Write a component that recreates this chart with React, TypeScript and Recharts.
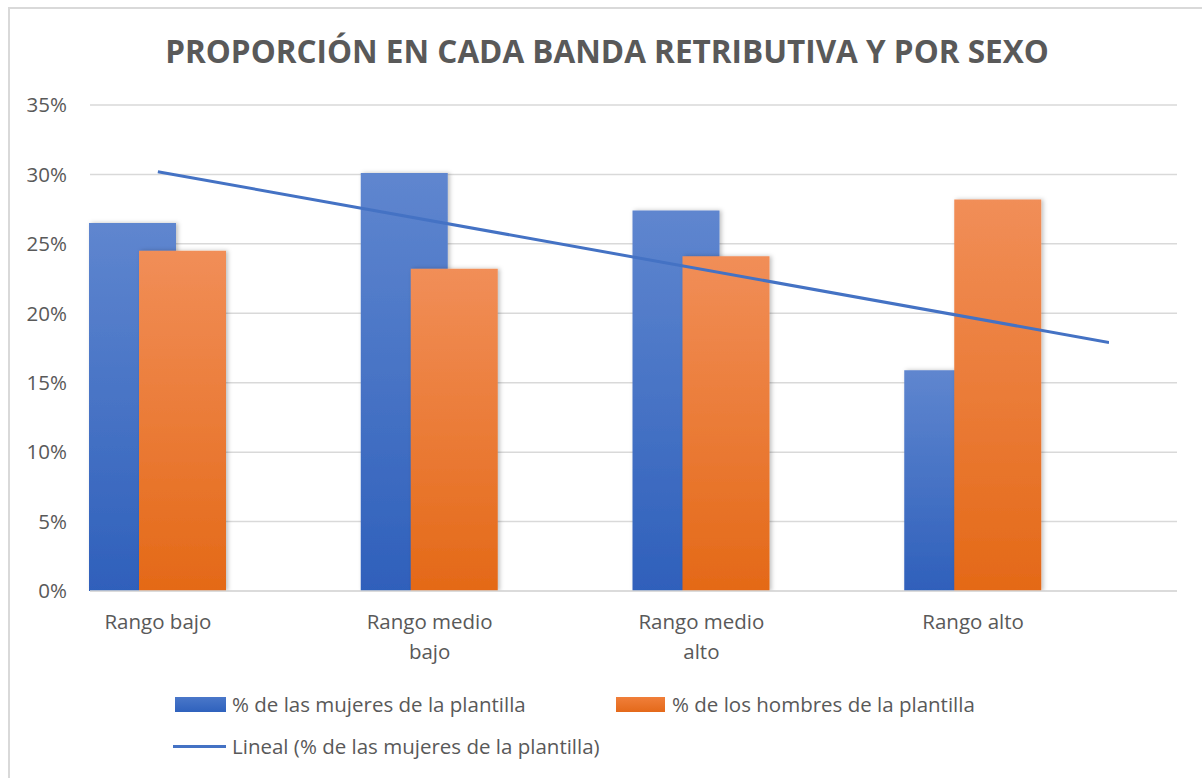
import React from 'react';
import { ComposedChart, Bar, Line, XAxis, YAxis, CartesianGrid, Legend } from 'recharts';

const categories = ['Rango bajo', 'Rango medio bajo', 'Rango medio alto', 'Rango alto'];
const womenPct = [26.5, 30.1, 27.4, 15.9];
const menPct = [24.5, 23.2, 24.1, 28.2];
const yTicks = [0, 5, 10, 15, 20, 25, 30, 35];
// Linear trendline (of women's share): x = category position
const trendX = [1, 4.5];
const trendY = [30.2, 17.9];

const WOMEN_LABEL = '% de las mujeres de la plantilla';
const MEN_LABEL = '% de los hombres de la plantilla';
const TREND_LABEL = 'Lineal (% de las mujeres de la plantilla)';

const data = categories.map((name, i) => ({ name, women: womenPct[i], men: menPct[i] }));
const trendData = trendX.map((x, i) => ({ x, trend: trendY[i] }));

const FONT = "'Open Sans', 'Noto Sans', sans-serif";
const TEXT = '#595959';
const W = 1194;
const H = 771;

const CategoryTick = (props: any) => {
  const { x, y, payload } = props;
  const words = String(payload.value).split(' ');
  const lines = words.length > 2 ? [words.slice(0, 2).join(' '), words.slice(2).join(' ')] : [words.join(' ')];
  return (
    <g transform={`translate(${x},${y})`}>
      {lines.map((l, i) => (
        <text key={i} x={0} y={0} dy={30 + i * 30} textAnchor="middle" fill={TEXT} fontSize={20.5} fontFamily={FONT}>
          {l}
        </text>
      ))}
    </g>
  );
};

const LegendContent = () => {
  const txt: React.CSSProperties = { position: 'absolute', fontSize: 20.5, color: TEXT, fontFamily: FONT, lineHeight: '26px', whiteSpace: 'nowrap' };
  return (
    <div style={{ position: 'relative', width: W, height: 90 }}>
      <div style={{ position: 'absolute', left: 167, top: 10, width: 51, height: 15, background: 'linear-gradient(#4a77c9, #2f62bd)' }} />
      <div style={{ ...txt, left: 224, top: 4 }}>{WOMEN_LABEL}</div>
      <div style={{ position: 'absolute', left: 608, top: 10, width: 49, height: 15, background: 'linear-gradient(#f07f3a, #e4691a)' }} />
      <div style={{ ...txt, left: 664, top: 4 }}>{MEN_LABEL}</div>
      <div style={{ position: 'absolute', left: 165, top: 58, width: 53, height: 3, background: '#4472C4' }} />
      <div style={{ ...txt, left: 224, top: 46 }}>{TREND_LABEL}</div>
    </div>
  );
};

export default function App() {
  return (
    <div
      style={{
        position: 'absolute',
        left: 8,
        top: 7,
        width: W,
        height: H,
        boxSizing: 'border-box',
        borderTop: '2px solid #D9D9D9',
        borderLeft: '2px solid #D9D9D9',
        background: '#fff',
        overflow: 'hidden',
      }}
    >
      <div
        style={{
          position: 'absolute',
          left: 0,
          top: 22,
          width: W,
          textAlign: 'center',
          fontFamily: FONT,
          fontWeight: 700,
          fontSize: 31.5,
          color: TEXT,
          lineHeight: '40px',
        }}
      >
        PROPORCIÓN EN CADA BANDA RETRIBUTIVA Y POR SEXO
      </div>
      <div style={{ position: 'absolute', left: -2, top: -2 }}>
        <ComposedChart width={W} height={H} data={data} margin={{ top: 98, right: 25, bottom: 127, left: 0 }} barGap={-37}>
          <defs>
            <linearGradient id="gWomen" x1="0" y1="0" x2="0" y2="1">
              <stop offset="0%" stopColor="#5f86cf" />
              <stop offset="100%" stopColor="#2f60bb" />
            </linearGradient>
            <linearGradient id="gMen" x1="0" y1="0" x2="0" y2="1">
              <stop offset="0%" stopColor="#f18e58" />
              <stop offset="100%" stopColor="#e46917" />
            </linearGradient>
            <filter id="barShadow" x="-10%" y="-10%" width="130%" height="120%">
              <feDropShadow dx="2" dy="0" stdDeviation="2" floodColor="#000" floodOpacity="0.25" />
            </filter>
          </defs>
          <CartesianGrid horizontal vertical={false} stroke="#D9D9D9" strokeWidth={1.5} />
          <XAxis
            dataKey="name"
            xAxisId="cat"
            height={60}
            padding={{ left: -68, right: 68 }}
            axisLine={{ stroke: '#D9D9D9', strokeWidth: 1.5 }}
            tickLine={false}
            tick={<CategoryTick />}
            interval={0}
          />
          <XAxis
            xAxisId="trend"
            dataKey="x"
            type="number"
            domain={[0.5, 4.5]}
            allowDataOverflow
            padding={{ left: -68, right: 68 }}
            hide
          />
          <YAxis
            domain={[0, 35]}
            ticks={yTicks}
            width={82}
            axisLine={false}
            tickLine={false}
            tickSize={0}
            tickMargin={23}
            tickFormatter={(v: number) => `${v}%`}
            tick={{ fill: TEXT, fontSize: 20.5, fontFamily: FONT }}
            allowDataOverflow
          />
          <Bar dataKey="women" name={WOMEN_LABEL} xAxisId="cat" fill="url(#gWomen)" barSize={87} filter="url(#barShadow)" isAnimationActive={false} />
          <Bar dataKey="men" name={MEN_LABEL} xAxisId="cat" fill="url(#gMen)" barSize={87} filter="url(#barShadow)" isAnimationActive={false} />
          <Line
            data={trendData}
            dataKey="trend"
            name={TREND_LABEL}
            xAxisId="trend"
            stroke="#4472C4"
            strokeWidth={3}
            dot={false}
            activeDot={false}
            isAnimationActive={false}
          />
          <Legend
            layout="horizontal"
            verticalAlign="middle"
            align="center"
            wrapperStyle={{ top: 680, left: 0, width: W }}
            content={<LegendContent />}
          />
        </ComposedChart>
      </div>
    </div>
  );
}
